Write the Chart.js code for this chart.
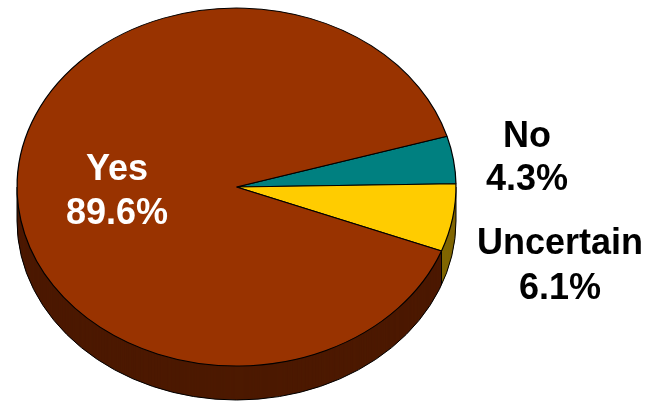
<!DOCTYPE html>
<html>
<head>
<meta charset="utf-8">
<script src="https://cdn.jsdelivr.net/npm/chart.js@4"></script>
<style>
  html, body { margin: 0; padding: 0; background: #fff; }
  #wrap { width: 650px; height: 401px; position: relative; }
</style>
</head>
<body>
<div id="wrap"><canvas id="pie"></canvas></div>
<script>
// --- DATOS ---
const labels = ['No', 'Uncertain', 'Yes'];
const values = [4.3, 6.1, 89.6];
const topColors = ['#008080', '#FFCC00', '#993300'];
const sideColors = ['#004040', '#806600', '#4C1900'];

// --- GEOMETRIA 3D ---
const TX = 236.5, TY = 187;   // centro de la cara superior
const RX = 219.5, RY = 179;   // radios de la elipse
const DEPTH = 34;             // grosor del pastel

// posiciones de las etiquetas (centro, linea base)
const labelPos = [
    { x: 527, y: 147, dy: 43, color: '#000' },
    { x: 560, y: 254, dy: 45, color: '#000' },
    { x: 117, y: 180, dy: 44, color: '#fff' }
];

function arcTransform(ctx, el) {
    const sx = RX / el.outerRadius, sy = RY / el.outerRadius;
    ctx.translate(TX, TY);
    ctx.scale(sx, sy);
    ctx.translate(-el.x, -el.y);
}

const pie3d = {
    id: 'pie3d',
    beforeDatasetsDraw(chart) {
        const ctx = chart.ctx;
        const arcs = chart.getDatasetMeta(0).data;

        // lateral: capas de abajo hacia arriba
        for (let d = DEPTH; d >= 1; d--) {
            ctx.save();
            ctx.translate(0, d);
            arcTransform(ctx, arcs[0]);
            arcs.forEach((el, i) => {
                ctx.beginPath();
                ctx.moveTo(el.x, el.y);
                ctx.arc(el.x, el.y, el.outerRadius, el.startAngle, el.endAngle);
                ctx.closePath();
                ctx.fillStyle = sideColors[i];
                ctx.fill();
            });
            ctx.restore();
        }

        // contorno inferior y aristas verticales
        ctx.save();
        ctx.strokeStyle = '#000';
        ctx.lineWidth = 1;
        ctx.beginPath();
        ctx.ellipse(TX, TY + DEPTH, RX, RY, 0, 0, Math.PI);
        ctx.stroke();
        const edges = [0, Math.PI];
        arcs.forEach(el => {
            let a = el.endAngle % (2 * Math.PI);
            if (a < 0) a += 2 * Math.PI;
            if (a > 0 && a < Math.PI) edges.push(a);
        });
        edges.forEach(a => {
            const x = TX + RX * Math.cos(a), y = TY + RY * Math.sin(a);
            ctx.beginPath();
            ctx.moveTo(x, y);
            ctx.lineTo(x, y + DEPTH);
            ctx.stroke();
        });
        ctx.restore();

        // cara superior: la dibuja Chart.js con la elipse aplicada
        ctx.save();
        arcTransform(ctx, arcs[0]);
    },
    afterDatasetsDraw(chart) {
        chart.ctx.restore();
    },
    afterDraw(chart) {
        const ctx = chart.ctx;
        ctx.save();
        ctx.font = 'bold 36px "Liberation Sans", Arial, sans-serif';
        ctx.textAlign = 'center';
        ctx.textBaseline = 'alphabetic';
        labels.forEach((lbl, i) => {
            const p = labelPos[i];
            ctx.fillStyle = p.color;
            ctx.fillText(lbl, p.x, p.y);
            ctx.fillText(values[i].toFixed(1) + '%', p.x, p.y + p.dy);
        });
        ctx.restore();
    }
};

new Chart(document.getElementById('pie'), {
    type: 'pie',
    data: {
        labels: labels,
        datasets: [{
            data: values,
            backgroundColor: topColors,
            borderColor: '#000',
            borderWidth: 1
        }]
    },
    options: {
        responsive: true,
        maintainAspectRatio: false,
        animation: false,
        events: [],
        rotation: 73.5,
        layout: { padding: { top: 20, bottom: 20 } },
        plugins: { legend: { display: false }, tooltip: { enabled: false } }
    },
    plugins: [pie3d]
});
</script>
</body>
</html>
